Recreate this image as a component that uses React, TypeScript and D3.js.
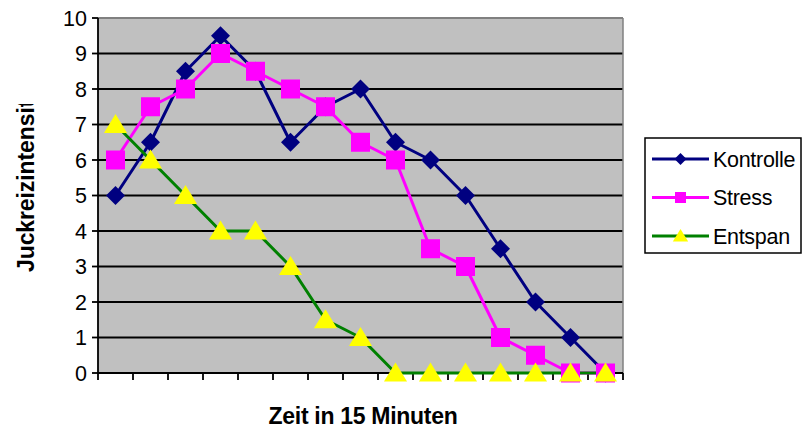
import React from "react";
import * as d3 from "d3";

const categories = ["1","2","3","4","5","6","7","8","9","10","11","12","13","14","15"];
const kontrolle = [5, 6.5, 8.5, 9.5, 8.5, 6.5, 7.5, 8, 6.5, 6, 5, 3.5, 2, 1, 0];
const stress = [6, 7.5, 8, 9, 8.5, 8, 7.5, 6.5, 6, 3.5, 3, 1, 0.5, 0, 0];
const entspan = [7, 6, 5, 4, 4, 3, 1.5, 1, 0, 0, 0, 0, 0, 0, 0];
const yTicks = [0, 1, 2, 3, 4, 5, 6, 7, 8, 9, 10];
const seriesNames = ["Kontrolle", "Stress", "Entspan"];

const W = 802, H = 430;
const left = 98, right = 623, top = 18, bottom = 373;
const font = "Arial, 'Liberation Sans', sans-serif";

export default function App() {
  const x = d3.scaleBand<string>().domain(categories).range([left, right]).padding(0);
  const y = d3.scaleLinear().domain([0, 10]).range([bottom, top]);
  const cx = (i: number) => (x(categories[i]) as number) + x.bandwidth() / 2;
  const line = d3.line<number>().x((_, i) => cx(i)).y((d) => y(d));

  const diamond = (px: number, py: number, r: number) =>
    `M${px},${py - r}L${px + r},${py}L${px},${py + r}L${px - r},${py}Z`;
  const square = (px: number, py: number, r: number) =>
    `M${px - r},${py - r}H${px + r}V${py + r}H${px - r}Z`;
  const tri = (px: number, py: number, r: number) =>
    `M${px},${py - r}L${px + r * 1.1},${py + r * 0.8}L${px - r * 1.1},${py + r * 0.8}Z`;

  const series = [
    { name: seriesNames[0], data: kontrolle, line: "#000080", fill: "#000080", shape: diamond, r: 9.5, lr: 6 },
    { name: seriesNames[1], data: stress, line: "#FF00FF", fill: "#FF00FF", shape: square, r: 9.5, lr: 5.5 },
    { name: seriesNames[2], data: entspan, line: "#008000", fill: "#FFFF00", shape: tri, r: 10.5, lr: 7 },
  ];

  const bounds = d3.range(categories.length + 1).map((i) => left + i * x.bandwidth());

  return (
    <svg width={W} height={H} style={{ position: "absolute", left: 0, top: 0, background: "#fff" }}>
      <defs>
        <clipPath id="ytclip">
          <rect x={0} y={104} width={60} height={300} />
        </clipPath>
      </defs>
      <rect x={left} y={top} width={right - left} height={bottom - top} fill="#C0C0C0" />
      {yTicks.filter((t) => t > 0 && t < 10).map((t) => (
        <line key={t} x1={left} x2={right} y1={y(t)} y2={y(t)} stroke="#000" strokeWidth={1.8} />
      ))}
      <line x1={left} x2={right} y1={top} y2={top} stroke="#808080" strokeWidth={1.8} />
      <line x1={right} x2={right} y1={top} y2={bottom} stroke="#808080" strokeWidth={1.5} />
      {/* y axis */}
      <line x1={left} x2={left} y1={top} y2={bottom} stroke="#000" strokeWidth={1.8} />
      {yTicks.map((t) => (
        <g key={t}>
          <line x1={left - 6} x2={left} y1={y(t)} y2={y(t)} stroke="#000" strokeWidth={1.8} />
          <text x={87} y={y(t)} dy="0.36em" textAnchor="end" fontFamily={font} fontSize={21.5} fill="#000">{t}</text>
        </g>
      ))}
      {/* x axis */}
      <line x1={left} x2={right} y1={bottom} y2={bottom} stroke="#000" strokeWidth={1.8} />
      {bounds.map((b, i) => (
        <line key={i} x1={b} x2={b} y1={bottom} y2={bottom + 7} stroke="#000" strokeWidth={1.8} />
      ))}
      {/* lines */}
      {series.map((s) => (
        <path key={s.name} d={line(s.data) || ""} fill="none" stroke={s.line} strokeWidth={3} strokeLinejoin="round" />
      ))}
      {series.map((s) => (
        <g key={s.name + "m"}>
          {s.data.map((d, i) => (
            <path key={i} d={s.shape(cx(i), y(d), s.r)} fill={s.fill} />
          ))}
        </g>
      ))}
      {/* axis titles */}
      <text x={363} y={424} textAnchor="middle" fontFamily={font} fontSize={23} fontWeight="bold" letterSpacing={-0.3} fill="#000">Zeit in 15 Minuten</text>
      <g clipPath="url(#ytclip)">
        <text transform="translate(34,272) rotate(-90)" textAnchor="start" fontFamily={font} fontSize={23} fontWeight="bold" letterSpacing={-0.1} fill="#000">Juckreizintensität</text>
      </g>
      {/* legend */}
      <rect x={645} y={138} width={156} height={115} fill="#fff" stroke="#000" strokeWidth={1.5} />
      {series.map((s, i) => {
        const ly = 159 + i * 38.5;
        return (
          <g key={s.name + "l"}>
            <line x1={652} x2={709} y1={ly} y2={ly} stroke={s.line} strokeWidth={3} />
            <path d={s.shape(680.5, ly, s.lr)} fill={s.fill} />
            <text x={713} y={ly} dy="0.36em" fontFamily={font} fontSize={21.5} letterSpacing={-0.3} fill="#000">{s.name}</text>
          </g>
        );
      })}
    </svg>
  );
}
